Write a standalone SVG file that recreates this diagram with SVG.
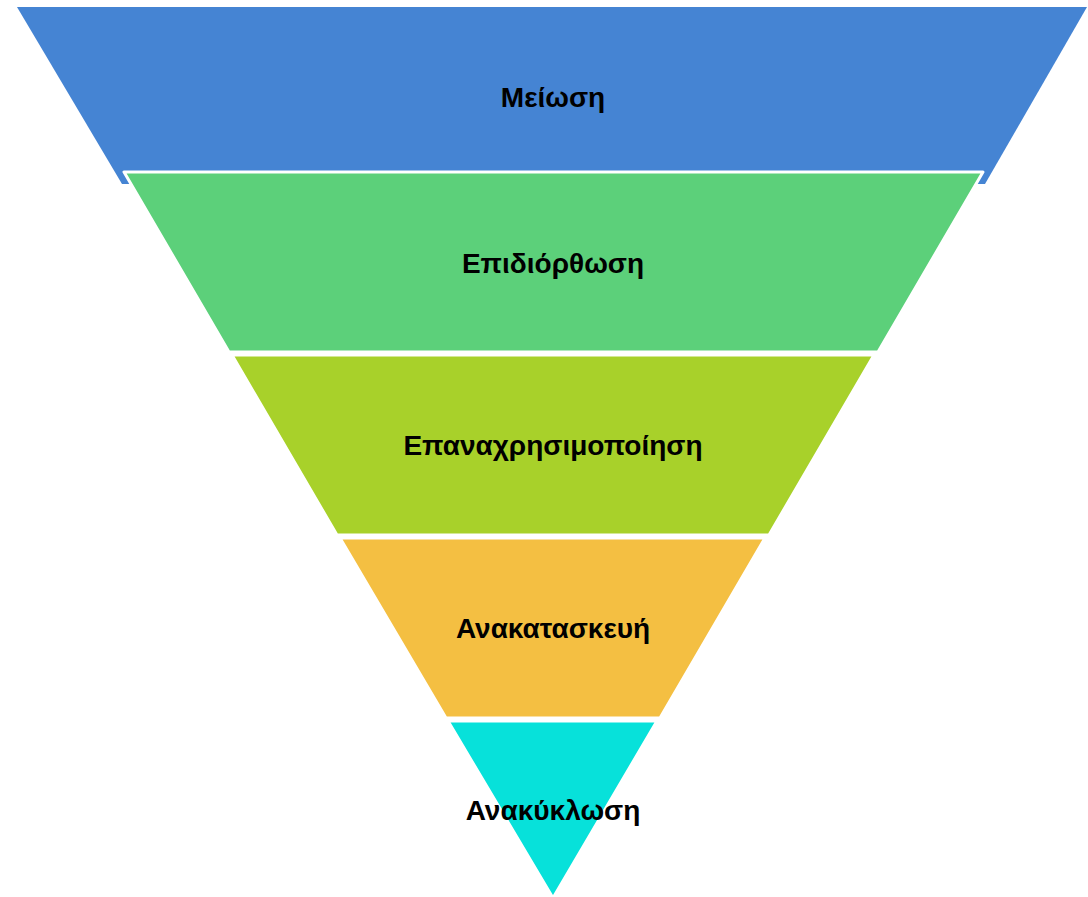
<svg xmlns="http://www.w3.org/2000/svg" width="1088" height="897" viewBox="0 0 1088 897">
<style>
.band{stroke:#ffffff;stroke-width:3;stroke-linejoin:round}
.lbl{font-family:"Liberation Sans",Arial,sans-serif;font-weight:bold;font-size:28px;fill:#000;text-anchor:middle}
</style>
<rect width="1088" height="897" fill="#ffffff"/>
<g id="node-reduce">
<polygon points="17,7 1087,7 985,184 122,184" fill="#4584D3"/>
<text class="lbl" x="553" y="107">Μείωση</text>
</g>
<g id="node-repair">
<polygon class="band" points="124,172 983,172 878,352 229,352" fill="#5CD07A"/>
<text class="lbl" x="553" y="273">Επιδιόρθωση</text>
</g>
<g id="node-reuse">
<polygon class="band" points="232,355 874,355 769,535 337,535" fill="#A8D12A"/>
<text class="lbl" x="553" y="455">Επαναχρησιμοποίηση</text>
</g>
<g id="node-remanufacture">
<polygon class="band" points="340,538 765,538 660,718 446,718" fill="#F4BF42"/>
<text class="lbl" x="553" y="638">Ανακατασκευή</text>
</g>
<g id="node-recycle">
<polygon class="band" points="448,721 657,721 553,898" fill="#07E1DA"/>
<text class="lbl" x="553" y="820">Ανακύκλωση</text>
</g>
<g id="connectors"></g>
</svg>
